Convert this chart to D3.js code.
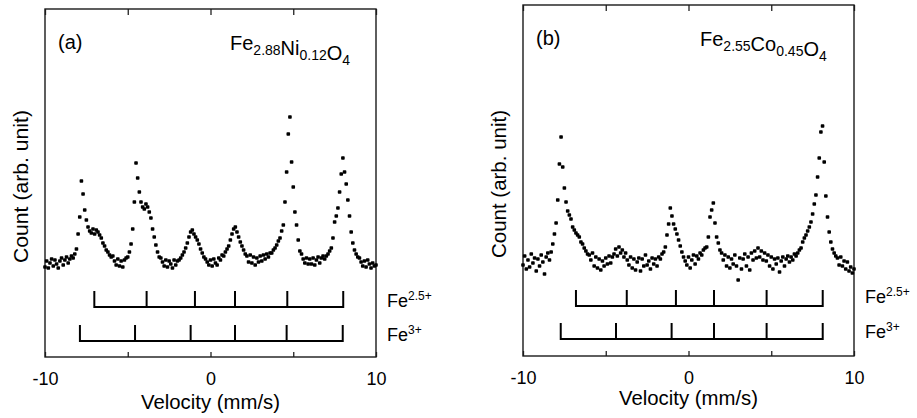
<!DOCTYPE html>
<html>
<head>
<meta charset="utf-8">
<script src="https://cdn.jsdelivr.net/npm/d3@7"></script>
<style>
    body { margin: 0; background: #fff; }
    svg { display: block; }
    text { font-family: "Liberation Sans", Arial, sans-serif; fill: #000; }
</style>
</head>
<body>
<div id="chart"></div>
<script>
// channel velocities (mm/s), one count value per channel
const velocityStep = 0.1;
const velocities = d3.range(0, 201).map((i) => -10 + i * velocityStep);

// (a) Fe2.88Ni0.12O4, counts above background (arb. unit), one row per mm/s
const countsNi = [
    -5, 1, -6, -1, 3, -4, 2, -2, -6, 1,
    4, -3, 2, 5, -1, 3, 6, 4, 8, 13,
    28, 45, 81, 68, 52, 42, 35, 31, 29, 33,
    28, 32, 30, 27, 24, 19, 16, 12, 10, 7,
    5, 6, 1, -3, 3, -4, 1, -5, 2, 4,
    5, 10, 18, 33, 60, 99, 84, 70, 60, 55,
    53, 58, 55, 50, 44, 33, 25, 17, 10, 5,
    4, 0, -4, 2, -5, 1, -2, -6, 2, -3,
    1, 2, 4, 7, 10, 14, 19, 25, 30, 32,
    28, 25, 22, 18, 13, 9, 5, 3, 0, -3,
    2, -4, 3, -1, -3, 4, 2, 7, 6, 10,
    13, 16, 22, 28, 33, 35, 30, 25, 20, 16,
    12, 8, 6, 0, 7, -1, 5, -3, 4, 0,
    6, 1, 7, 3, 8, 5, 9, 9, 12, 14,
    17, 21, 24, 31, 37, 60, 90, 128, 145, 100,
    75, 50, 37, 22, 11, 8, 3, -1, 4, -2,
    3, -2, 4, -3, 2, 5, -1, 4, 6, 3,
    6, 8, 11, 14, 24, 40, 46, 54, 70, 88,
    104, 90, 78, 62, 46, 30, 19, 12, 8, 5,
    4, 0, -4, 1, -5, 2, -2, -6, -1, -4,
    -3
];

// (b) Fe2.55Co0.45O4
const countsCo = [
    -3, 6, -7, 2, -5, 8, -1, 4, -9, 3,
    -4, 7, 0, -12, 5, 9, 2, 10, 18, 28,
    39, 62, 98, 125, 95, 74, 60, 51, 47, 43,
    35, 32, 29, 27, 25, 20, 18, 14, 11, 8,
    7, 2, 9, -4, 5, -6, 3, -8, 1, -4,
    4, -2, 6, -1, 5, 8, 13, 6, 15, 9,
    12, 5, 9, 2, -3, 5, -6, 3, -8, 0,
    4, -9, 3, -4, 7, -3, 1, -7, 4, -2,
    3, -4, 5, 3, 8, 10, 15, 27, 38, 54,
    46, 38, 33, 28, 22, 16, 10, 5, 1, -3,
    5, -6, 2, 7, -2, 6, 3, 9, 7, 12,
    14, 15, 25, 45, 52, 59, 39, 25, 19, 12,
    9, 2, 7, -4, 5, -6, 3, -2, 7, -4,
    -18, 4, -7, 3, 8, -4, 5, -8, 9, 2,
    11, 4, 14, 5, 11, 2, 9, 1, 7, -4,
    5, -7, 3, -2, 4, -10, 1, 5, -4, 3,
    6, 0, 5, 2, 8, 6, 9, 12, 14, 20,
    24, 27, 31, 35, 40, 48, 58, 67, 85, 104,
    130, 136, 100, 66, 45, 30, 20, 13, 9, 6,
    4, -3, 5, -4, 1, -7, 0, -9, -5, -11,
    -7
];

// sextet line positions (mm/s)
const linesNi25 = [-7.02, -3.86, -0.94, 1.48, 4.64, 8.02];
const linesNi3 = [-7.89, -4.56, -1.20, 1.48, 4.60, 7.99];
const linesCo25 = [-6.80, -3.73, -0.76, 1.54, 4.72, 8.11];
const linesCo3 = [-7.72, -4.38, -1.02, 1.54, 4.72, 8.11];

const xTicks = [-10, -5, 0, 5, 10];
const xTickLabels = [-10, 0, 10];

const svg = d3.select("#chart").append("svg")
    .attr("width", 917)
    .attr("height", 418);

const drawPanel = ({box, counts, rows, tag, formula, labelY}) => {
    const x = d3.scaleLinear().domain([-10, 10]).range([box.left, box.right]);
    const y = d3.scaleLinear()
        .domain([box.baseline - box.bottom, box.baseline - box.top])
        .range([box.bottom, box.top]);

    const g = svg.append("g");

    // bottom axis, ticks pointing inward
    const bottomAxis = g.append("g")
        .attr("transform", `translate(0,${box.bottom})`)
        .call(d3.axisBottom(x)
            .tickValues(xTicks)
            .tickSizeInner(-5)
            .tickSizeOuter(0)
            .tickPadding(15)
            .tickFormat((d) => xTickLabels.includes(d) ? (d < 0 ? "-" + Math.abs(d) : String(d)) : ""));
    bottomAxis.select(".domain").remove();
    bottomAxis.selectAll("line").attr("stroke", "#222").attr("stroke-width", 1.3);
    bottomAxis.selectAll("text")
        .style("font-size", "18px")
        .style("font-family", "\"Liberation Sans\", Arial, sans-serif")
        .attr("fill", "#000");

    const topAxis = g.append("g")
        .attr("transform", `translate(0,${box.top})`)
        .call(d3.axisTop(x).tickValues(xTicks).tickSizeInner(-6).tickSizeOuter(0).tickFormat(""));
    topAxis.select(".domain").remove();
    topAxis.selectAll("line").attr("stroke", "#222").attr("stroke-width", 1.3);

    g.append("rect")
        .attr("x", box.left)
        .attr("y", box.top)
        .attr("width", box.right - box.left)
        .attr("height", box.bottom - box.top)
        .attr("fill", "none")
        .attr("stroke", "#1a1a1a")
        .attr("stroke-width", 1.4);

    // spectrum points
    g.append("g").selectAll("rect")
        .data(counts)
        .join("rect")
        .attr("x", (d, i) => x(velocities[i]) - 1.8)
        .attr("y", (d) => y(d) - 1.8)
        .attr("width", 3.6)
        .attr("height", 3.6)
        .attr("rx", 0.8)
        .attr("fill", "#000");

    // stick diagrams for the two iron sites
    rows.forEach((row) => {
        const lineY = box.bottom - row.offset;
        const rg = g.append("g");
        rg.append("line")
            .attr("x1", x(d3.min(row.lines)))
            .attr("x2", x(d3.max(row.lines)))
            .attr("y1", lineY)
            .attr("y2", lineY)
            .attr("stroke", "#000")
            .attr("stroke-width", 2);
        rg.selectAll(".stick")
            .data(row.lines)
            .join("line")
            .attr("class", "stick")
            .attr("x1", (d) => x(d))
            .attr("x2", (d) => x(d))
            .attr("y1", lineY + 1)
            .attr("y2", lineY - 16)
            .attr("stroke", "#000")
            .attr("stroke-width", 2);

        const label = rg.append("text")
            .attr("x", box.right + 11)
            .attr("y", lineY + row.textShift)
            .style("font-size", "18px");
        label.append("tspan").text("Fe");
        label.append("tspan")
            .attr("dy", -7)
            .style("font-size", "12px")
            .text(row.charge);
    });

    // panel tag and formula
    g.append("text")
        .attr("x", box.left + 13)
        .attr("y", box.top + 40)
        .style("font-size", "20px")
        .text(tag);

    const f = g.append("text")
        .attr("x", box.formulaX)
        .attr("y", box.top + 41)
        .style("font-size", "20px");
    formula.forEach(([main, sub]) => {
        f.append("tspan").attr("dy", 0).text(main);
        f.append("tspan").attr("dy", 5).style("font-size", "14px").text(sub);
        f.append("tspan").attr("dy", -5).text("");
    });

    g.append("text")
        .attr("x", (box.left + box.right) / 2)
        .attr("y", box.bottom + box.xTitleOffset)
        .attr("text-anchor", "middle")
        .attr("textLength", 139)
        .attr("lengthAdjust", "spacingAndGlyphs")
        .style("font-size", "20px")
        .text("Velocity (mm/s)");

    g.append("text")
        .attr("transform", `translate(${labelY.x},${labelY.y}) rotate(-90)`)
        .attr("text-anchor", "middle")
        .attr("textLength", labelY.length)
        .attr("lengthAdjust", "spacingAndGlyphs")
        .style("font-size", "21px")
        .text("Count (arb. unit)");
};

drawPanel({
    box: {left: 45, right: 376, top: 9, bottom: 357, baseline: 262, formulaX: 230, xTitleOffset: 52},
    counts: countsNi,
    rows: [
        {lines: linesNi25, offset: 50, charge: "2.5+", textShift: 0},
        {lines: linesNi3, offset: 16, charge: "3+", textShift: 0}
    ],
    tag: "(a)",
    formula: [["Fe", "2.88"], ["Ni", "0.12"], ["O", "4"]],
    labelY: {x: 28, y: 186.5, length: 153}
});

drawPanel({
    box: {left: 523, right: 854, top: 5, bottom: 356, baseline: 262, formulaX: 700, xTitleOffset: 49},
    counts: countsCo,
    rows: [
        {lines: linesCo25, offset: 50, charge: "2.5+", textShift: -3},
        {lines: linesCo3, offset: 17, charge: "3+", textShift: -1}
    ],
    tag: "(b)",
    formula: [["Fe", "2.55"], ["Co", "0.45"], ["O", "4"]],
    labelY: {x: 506, y: 184, length: 148}
});
</script>
</body>
</html>
